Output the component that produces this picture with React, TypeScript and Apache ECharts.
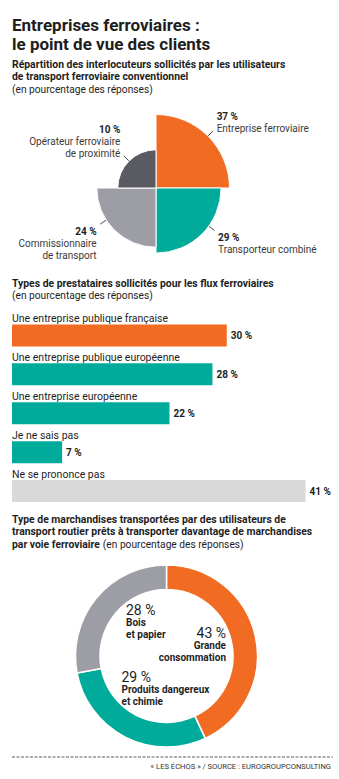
import React, { useEffect, useRef } from 'react';
import * as echarts from 'echarts';

const FONT = 'Roboto, "Noto Sans", sans-serif';
const INK = '#1e1e1e';
const SOFT = '#3a3a3a';
const ORANGE = '#F26B22';
const TEAL = '#00AB9B';
const DARK = '#5A5A62';
const MID = '#9D9DA5';
const LIGHT = '#D9D9D9';

// Chart 1 — interlocuteurs (rose, equal angles)
const interlocNames = ['Entreprise ferroviaire', 'Transporteur combiné', 'Commissionnaire\nde transport', 'Opérateur ferroviaire\nde proximité'];
const interlocValues = [37, 29, 24, 10];
const interlocColors = [ORANGE, TEAL, MID, DARK];
// direction of each leader line (degrees, screen coords)
const interlocLabelAngles = [-45, 36, 147, -135];

// Chart 2 — prestataires
const prestNames = ['Une entreprise publique française', 'Une entreprise publique européenne', 'Une entreprise européenne', 'Je ne sais pas', 'Ne se prononce pas'];
const prestValues = [30, 28, 22, 7, 41];
const prestColors = [ORANGE, TEAL, TEAL, TEAL, LIGHT];

// Chart 3 — marchandises
const marchNames = ['Grande\nconsommation', 'Produits dangereux\net chimie', 'Bois\net papier'];
const marchValues = [43, 29, 28];
const marchColors = [ORANGE, TEAL, MID];
const marchLabelPos = [
  { x: 226, y: 626, align: 'right' },
  { x: 121.5, y: 670, align: 'left' },
  { x: 126, y: 603, align: 'left' },
];

export default function App() {
  const ref = useRef<HTMLDivElement>(null);
  useEffect(() => {
    if (!ref.current) return;
    const chart = echarts.init(ref.current, undefined, { renderer: 'svg' });
    const txt = (extra: any) => ({ fontFamily: FONT, fill: INK, ...extra });
    const subRich = {
      b: { fontFamily: FONT, fontWeight: 'bold', fontSize: 10.4, lineHeight: 12.4, color: INK },
      n: { fontFamily: FONT, fontSize: 10.2, lineHeight: 12.4, color: SOFT },
    };
    const option: any = {
      animation: false,
      textStyle: { fontFamily: FONT },
      grid: { left: 12, right: 12, top: 316, bottom: 268.5 },
      xAxis: { type: 'value', min: 0, max: 44, show: false },
      yAxis: {
        type: 'category',
        inverse: true,
        data: prestNames,
        z: 5,
        axisLine: { show: false },
        axisTick: { show: false },
        splitLine: { show: false },
        axisLabel: {
          inside: true,
          margin: 0,
          align: 'left',
          verticalAlign: 'middle',
          formatter: (v: string) => `{a|${v}}\n{s| }`,
          rich: {
            a: { fontSize: 10.5, lineHeight: 12, color: INK, fontFamily: FONT },
            s: { fontSize: 2, lineHeight: 34 },
          },
        },
      },
      series: [
        {
          type: 'pie',
          roseType: 'area',
          center: [156, 188],
          radius: [0, 73.5],
          startAngle: 90,
          clockwise: true,
          silent: true,
          avoidLabelOverlap: false,
          itemStyle: { borderColor: '#fff', borderWidth: 1 },
          data: interlocValues.map((v, i) => ({
            name: interlocNames[i],
            value: Math.sqrt(v),
            itemStyle: { color: interlocColors[i] },
          })),
          label: {
            show: true,
            position: 'outside',
            formatter: (p: any) =>
              `{v|${interlocValues[p.dataIndex]} %}\n` + p.name.split('\n').map((s: string) => `{n|${s}}`).join('\n'),
            rich: {
              v: { fontFamily: FONT, fontWeight: 'bold', fontSize: 10, lineHeight: 12.3, color: INK },
              n: { fontFamily: FONT, fontSize: 10, lineHeight: 12.3, color: SOFT },
            },
          },
          labelLine: { show: true, length: 7, length2: 0, lineStyle: { color: INK, width: 0.8 } },
          labelLayout: (p: any) => {
            const i = p.dataIndex;
            const r = p.rect;
            const cx = i === 0 || i === 1 ? r.x : r.x + r.width;
            const cy = i === 1 || i === 2 ? r.y : r.y + r.height;
            const rad = r.width;
            const a = (interlocLabelAngles[i] * Math.PI) / 180;
            const c = Math.cos(a), s = Math.sin(a);
            const sx = cx + rad * c, sy = cy + rad * s;
            const ex = sx + 7 * c, ey = sy + 7 * s;
            const right = c > 0, down = s > 0;
            return {
              x: ex + (right ? 3.5 : -3.5),
              y: down ? ey + 1 : ey + 4,
              align: right ? 'left' : 'right',
              verticalAlign: down ? 'top' : 'bottom',
              labelLinePoints: [[sx, sy], [ex, ey]],
            };
          },
        },
        {
          type: 'bar',
          data: prestValues.map((v, i) => ({ value: v, itemStyle: { color: prestColors[i] } })),
          barWidth: 22,
          silent: true,
          label: {
            show: true,
            position: 'right',
            distance: 4,
            formatter: '{c} %',
            fontFamily: FONT,
            fontWeight: 'bold',
            fontSize: 10,
            color: INK,
          },
        },
        {
          type: 'pie',
          center: [166.5, 656],
          radius: [66.5, 91],
          startAngle: 90,
          clockwise: true,
          silent: true,
          avoidLabelOverlap: false,
          itemStyle: { borderColor: '#fff', borderWidth: 1.5 },
          data: marchValues.map((v, i) => ({ name: marchNames[i], value: v, itemStyle: { color: marchColors[i] } })),
          label: {
            show: true,
            position: 'inside',
            formatter: (p: any) =>
              `{p|${marchValues[p.dataIndex]} %}\n` + p.name.split('\n').map((s: string) => `{n|${s}}`).join('\n'),
            rich: {
              p: { fontFamily: FONT, fontSize: 14, lineHeight: 14, color: INK },
              n: { fontFamily: FONT, fontSize: 10, fontWeight: 'bold', lineHeight: 11.5, color: INK },
            },
          },
          labelLine: { show: false },
          labelLayout: (p: any) => {
            const pos = marchLabelPos[p.dataIndex];
            return { x: pos.x, y: pos.y, align: pos.align, verticalAlign: 'top' };
          },
        },
      ],
      graphic: [
        {
          type: 'text', left: 12, top: 15,
          style: txt({ text: 'Entreprises ferroviaires :\nle point de vue des clients', fontSize: 17, fontWeight: 'bold', lineHeight: 19 }),
        },
        {
          type: 'text', left: 12, top: 59.5,
          style: txt({
            text: '{b|Répartition des interlocuteurs sollicités par les utilisateurs}\n{b|de transport ferroviaire conventionnel}\n{n|(en pourcentage des réponses)}',
            rich: subRich,
          }),
        },
        {
          type: 'text', left: 12, top: 278.5,
          style: txt({
            text: '{b|Types de prestataires sollicités pour les flux ferroviaires}\n{n|(en pourcentage des réponses)}',
            rich: subRich,
          }),
        },
        {
          type: 'text', left: 12, top: 514.5,
          style: txt({
            text: '{b|Type de marchandises transportées par des utilisateurs de}\n{b|transport routier prêts à transporter davantage de marchandises}\n{b|par voie ferroviaire} {n|(en pourcentage des réponses)}',
            rich: subRich,
          }),
        },
        {
          type: 'line',
          shape: { x1: 12, y1: 757, x2: 333, y2: 757 },
          style: { stroke: '#333', lineWidth: 0.8, lineDash: [3, 1.5] },
        },
        {
          type: 'text', right: 8, top: 762,
          style: txt({ text: '« LES ÉCHOS » / SOURCE : EUROGROUPCONSULTING', fontSize: 7.6, fill: '#333' }),
        },
      ],
    };
    chart.setOption(option);
    return () => chart.dispose();
  }, []);
  return (
    <div
      ref={ref}
      style={{ position: 'absolute', left: 0, top: 0, width: 339, height: 779, background: '#fff' }}
    />
  );
}
